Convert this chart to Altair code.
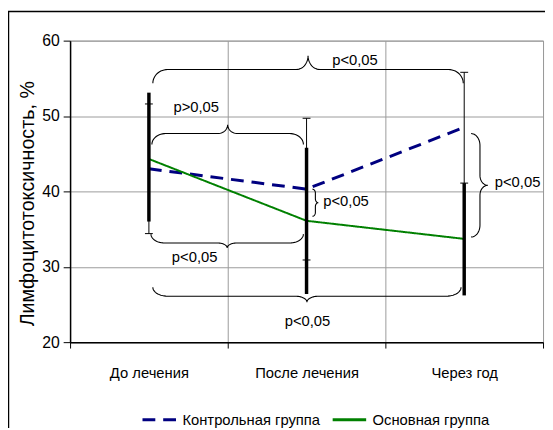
import altair as alt
import numpy as np
import pandas as pd

# ---------------- data ----------------
categories = ["До лечения", "После лечения", "Через год"]
series_names = ["Контрольная группа", "Основная группа"]

control_mean = [43.0, 40.3, 48.5]
control_lo = [34.4, 30.9, 41.1]
control_hi = [51.6, 49.7, 55.8]

main_mean = [44.3, 36.1, 33.7]
main_lo = [36.0, 26.4, 26.2]
main_hi = [53.1, 45.8, 41.1]

# significance braces: start (x, y), end (x, y) in chart units, direction of the cusp
brace_x0 = [0.525, 0.519, 0.513, 1.556, 2.600, 0.525]
brace_y0 = [56.17, 47.67, 33.16, 40.30, 47.67, 26.10]
brace_x1 = [2.494, 1.480, 1.480, 1.556, 2.600, 2.480]
brace_y1 = [56.17, 47.67, 33.16, 36.70, 33.95, 26.10]
brace_dir = ["up", "up", "down", "right", "right", "down"]
brace_end = [14, 11, 9, 3, 9, 9]
brace_cusp = [14, 9, 5, 3, 8, 6]
brace_r = [15, 14, 14, 4, 12, 15]
brace_r2 = [12, 10, 10, 4, 10, 12]

p_text = ["p<0,05", "p>0,05", "p<0,05", "p<0,05", "p<0,05", "p<0,05"]
p_x = [1.6625, 0.80, 0.79, 1.606, 2.694, 1.506]
p_y = [57.48, 51.2, 31.33, 38.65, 41.27, 22.83]
p_align = ["left", "center", "center", "left", "left", "center"]

# ---------------- layout ----------------
W, H = 480, 306
KX, KY = W / 3.0, H / 40.0
FONT = "Liberation Sans, Arial, sans-serif"
GRID = "#9a9a9a"
FS = 15

xpos = [i + 0.5 for i in range(len(categories))]

lines = pd.DataFrame(
    {
        "series": [series_names[0]] * 3 + [series_names[1]] * 3,
        "x": xpos + xpos,
        "y": control_mean + main_mean,
    }
)
ctrl_err = pd.DataFrame({"x": xpos, "y": control_lo, "y2": control_hi})
ctrl_caps = pd.DataFrame(
    {
        "x": [p - 0.025 for p in xpos] * 2,
        "x2": [p + 0.025 for p in xpos] * 2,
        "y": control_lo + control_hi,
    }
)
main_err = pd.DataFrame({"x": xpos, "y": main_lo, "y2": main_hi})


def brace_points(x0, y0, x1, y1, direction, e, c, r, r2, n=14):
    P0 = np.array([x0 * KX, y0 * KY])
    P1 = np.array([x1 * KX, y1 * KY])
    L = float(np.linalg.norm(P1 - P0))
    d = (P1 - P0) / L
    nv = np.array({"up": (0, 1), "down": (0, -1), "right": (1, 0), "left": (-1, 0)}[direction], dtype=float)
    m = L / 2
    t = np.linspace(0, np.pi / 2, n)
    half = [(r - r * np.cos(tt), -e + e * np.sin(tt)) for tt in t]
    half += [(m - r2 + r2 * np.sin(tt), c - c * np.cos(tt)) for tt in t]
    uv = half + [(L - u, v) for (u, v) in reversed(half)]
    pts = [P0 + u * d + v * nv for (u, v) in uv]
    return [(p[0] / KX, p[1] / KY) for p in pts]


rows = []
for b in range(len(brace_x0)):
    pts = brace_points(brace_x0[b], brace_y0[b], brace_x1[b], brace_y1[b], brace_dir[b],
                       brace_end[b], brace_cusp[b], brace_r[b], brace_r2[b])
    for i, (x, y) in enumerate(pts):
        rows.append({"b": b, "i": i, "x": x, "y": y})
braces = pd.DataFrame(rows)

plabels = pd.DataFrame({"t": p_text, "x": p_x, "y": p_y, "a": p_align})

# ---------------- scales / axes ----------------
label_expr = (
    f"datum.value == 0.5 ? '{categories[0]}' : datum.value == 1.5 ? '{categories[1]}' : "
    f"datum.value == 2.5 ? '{categories[2]}' : ''"
)
x_axis = alt.Axis(
    values=[0, 0.5, 1, 1.5, 2, 2.5, 3],
    labelExpr=label_expr,
    title=None,
    grid=True,
    gridColor=GRID,
    gridWidth=1,
    gridOpacity={"condition": {"test": "datum.value % 1 != 0", "value": 0}, "value": 1},
    tickOpacity={"condition": {"test": "datum.value % 1 != 0", "value": 0}, "value": 1},
    tickColor="black",
    tickSize=6,
    domainColor="black",
    domainWidth=1.5,
    labelFont=FONT,
    labelFontSize=FS,
    labelColor="black",
    labelPadding=18,
    labelFlush=False,
    labelOverlap=False,
)
y_axis = alt.Axis(
    values=[20, 30, 40, 50, 60],
    title="Лимфоцитотоксичность, %",
    titleFont=FONT,
    titleFontSize=20,
    titleFontWeight="normal",
    titleColor="black",
    titleX=-43,
    titleY=165,
    titleAngle=-90,
    titleAlign="center",
    titleBaseline="middle",
    grid=True,
    gridColor=GRID,
    gridWidth=1,
    tickColor="black",
    tickSize=7,
    domainColor="black",
    domainWidth=1.5,
    labelFont=FONT,
    labelFontSize=FS + 1,
    labelColor="black",
    labelPadding=4,
)
xs = alt.Scale(domain=[0, 3], nice=False, zero=False)
ys = alt.Scale(domain=[20, 60], nice=False, zero=False)
X = alt.X("x:Q", scale=xs, axis=x_axis)
Y = alt.Y("y:Q", scale=ys, axis=y_axis)

legend = alt.Legend(
    title=None,
    orient="none",
    legendX=72,
    legendY=366,
    direction="horizontal",
    symbolType="stroke",
    symbolSize=1156,
    symbolStrokeWidth=3,
    labelFont=FONT,
    labelFontSize=FS,
    labelColor="black",
    labelOffset=5,
    columnPadding=6,
    padding=0,
)
color = alt.Color("series:N", scale=alt.Scale(domain=series_names, range=["#000080", "#008000"]), legend=legend)
dash = alt.StrokeDash("series:N", scale=alt.Scale(domain=series_names, range=[[13, 8], [1, 0]]), legend=legend)

frame = alt.Chart(pd.DataFrame({"a": [0]})).mark_rect(fill=None, stroke="black", strokeWidth=1.5).encode(
    x=alt.value(-62.5), x2=alt.value(W + 30), y=alt.value(-29.5), y2=alt.value(H + 200)
)

brace_layer = alt.Chart(braces).mark_line(color="black", strokeWidth=1.1).encode(
    x=X, y=Y, detail="b:N", order="i:Q"
)

ctrl_line = alt.Chart(lines[lines.series == series_names[0]]).mark_line(strokeWidth=3).encode(
    x=X, y=Y, color=color, strokeDash=dash
)
main_line = alt.Chart(lines[lines.series == series_names[1]]).mark_line(strokeWidth=2).encode(
    x=X, y=Y, color=color, strokeDash=dash
)

ctrl_bar = alt.Chart(ctrl_err).mark_rule(color="black", strokeWidth=1).encode(x=X, y=Y, y2="y2:Q")
ctrl_cap = alt.Chart(ctrl_caps).mark_rule(color="black", strokeWidth=1).encode(x=X, x2="x2:Q", y=Y)
main_bar = alt.Chart(main_err).mark_rule(color="black", strokeWidth=3.5).encode(x=X, y=Y, y2="y2:Q")

text_layers = []
for al in ["left", "center"]:
    sub = plabels[plabels.a == al]
    text_layers.append(
        alt.Chart(sub).mark_text(align=al, baseline="middle", font=FONT, fontSize=FS, color="black").encode(
            x=X, y=Y, text="t:N"
        )
    )

chart = (
    alt.layer(frame, brace_layer, ctrl_line, main_line, ctrl_bar, main_bar, ctrl_cap, *text_layers)
    .properties(
        width=W,
        height=H,
        autosize=alt.AutoSizeParams(type="none"),
        padding={"left": 63, "top": 30, "right": 2, "bottom": 84},
        background="white",
    )
    .configure_view(stroke=GRID, strokeWidth=1)
)

chart.save("out.html", embed_options={"renderer": "svg", "actions": False})
